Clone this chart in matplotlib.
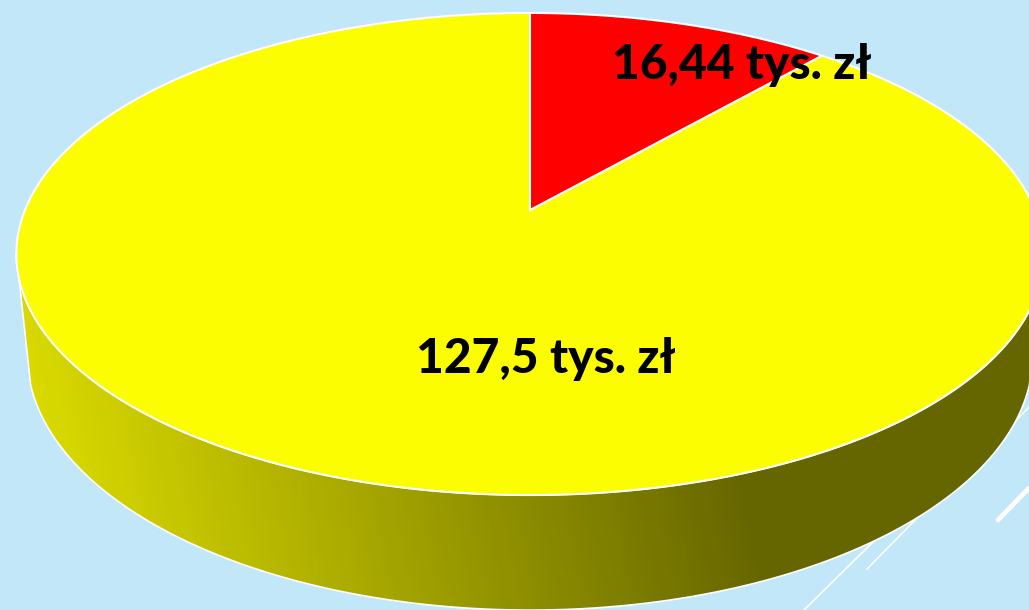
import numpy as np
from matplotlib import pyplot as plt
from matplotlib.patches import PathPatch, Polygon
from matplotlib.path import Path
from matplotlib.transforms import Affine2D
from matplotlib.colors import LinearSegmentedColormap

# Data
values = [16.44, 127.5]
labels = ['16,44 tys. zł', '127,5 tys. zł']
colors = ['#ff0000', '#fbfd00']

bg = '#c2e7f9'
k = 0.1826  # perspective of the tilted disc


def project(xy, sx=1.0, sy=1.0, x0=530, y0=210):
    # unit circle -> screen pixels, the near side looks bigger
    x, y = xy[:, 0], xy[:, 1]
    w = 1 + k * y
    return np.column_stack((x0 + sx * 505 * x / w, y0 - sy * 233 * y / w))


def arc(start):
    ang = np.linspace(np.pi + start, 2 * np.pi - start, 400)
    return np.column_stack((np.cos(ang), np.sin(ang)))


plt.rcParams['font.family'] = ['Lato', 'DejaVu Sans']
fig = plt.figure(figsize=(10.29, 6.1), dpi=100, facecolor=bg)
ax = fig.add_axes([0, 0, 1, 1])

wedges, _ = ax.pie(values, colors=colors, startangle=90, counterclock=False, radius=1)

ax.set_aspect('auto')
ax.axis('off')

# background streaks
ax.plot([998, 1029], [520, 488], color='white', lw=3.4, solid_capstyle='round', zorder=1)
ax.plot([867, 925], [569, 510], color='white', lw=1.1, zorder=1)
ax.plot([804, 880], [610, 535], color='white', lw=1.3, zorder=1)
ax.plot([1010, 1029], [427, 407], color='white', lw=1.1, zorder=1)

# side wall between the top rim and the bottom rim
top_rim = project(arc(np.arcsin(k)))
bottom_rim = project(arc(np.arcsin(0.2937)), sx=0.979, sy=1.058, y0=308.5)
side = np.vstack((top_rim, bottom_rim[::-1]))

xx, yy = np.meshgrid(np.arange(0, 1100), np.arange(200, 640))
grad = np.clip((xx - 0.2 * (yy - 500) - 30) / 720, 0, 1)
cmap = LinearSegmentedColormap.from_list('wall', ['#dede00', '#666600'])
im = ax.imshow(grad, cmap=cmap, extent=(0, 1100, 640, 200), aspect='auto', zorder=2)
wall = Polygon(side, closed=True, facecolor='none', edgecolor='white', lw=1.2, zorder=3)
ax.add_patch(wall)
im.set_clip_path(wall)
ax.set_xlim(0, 1029)
ax.set_ylim(610, 0)

# top face: take the pie wedges through the perspective
for w, c in zip(wedges[::-1], colors[::-1]):
    path = w.get_path().transformed(Affine2D().scale(1000))
    poly = path.to_polygons()[0] / 1000
    face = PathPatch(Path(project(poly)), facecolor=c, edgecolor='white', lw=1.5, zorder=4,
                     joinstyle='miter')
    ax.add_patch(face)
    w.remove()

ax.text(742, 65, labels[0], ha='center', va='center', fontsize=34.5, fontweight='black', color='black', zorder=5)
ax.text(546, 359, labels[1], ha='center', va='center', fontsize=34.5, fontweight='black', color='black', zorder=5)

fig.savefig('out.png', dpi=100, facecolor=bg)
plt.close(fig)
